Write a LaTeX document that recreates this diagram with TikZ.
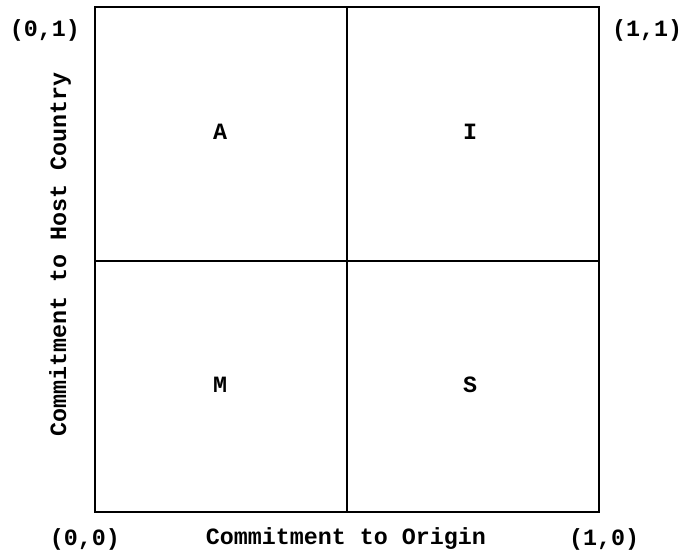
\documentclass[tikz,border=0pt]{standalone}
\usepackage{fontspec}
\setmonofont{Liberation Mono}
\usepackage{xcolor}
\usepackage{tikz}
\usetikzlibrary{positioning, calc}

\begin{document}
\begin{tikzpicture}[x=0.75pt, y=0.75pt,
    every node/.style={font=\ttfamily\bfseries\fontsize{17.5}{20}\selectfont, inner sep=0pt},
    frame/.style={draw=black, line width=1.8pt},
    divider/.style={draw=black, line width=1.4pt}]
  \useasboundingbox (0,0) rectangle (684,552);

  % square and its quadrants
  \coordinate (sw) at (95,40);
  \coordinate (ne) at (599,545);
  \coordinate (midS) at (347,40);
  \coordinate (midN) at (347,545);
  \coordinate (midW) at (95,291);
  \coordinate (midE) at (599,291);
  \draw[frame] (sw) rectangle (ne);
  \draw[divider] (midS) -- (midN);
  \draw[divider] (midW) -- (midE);

  % quadrant letters
  \node (qA) at (220,420) {A};
  \node (qI) at (470,420) {I};
  \node (qM) at (220,167) {M};
  \node (qS) at (470,167) {S};

  % corner coordinates
  \node (c01) at (45,522) {(0,1)};
  \node (c11) at (647,522) {(1,1)};
  \node (c00) at (85,13) {(0,0)};
  \node (c10) at (604,13) {(1,0)};

  % axis titles
  \node (xlab) at (346,13) {Commitment to Origin};
  \node[rotate=90] (ylab) at (60,298) {Commitment to Host Country};
\end{tikzpicture}
\end{document}
